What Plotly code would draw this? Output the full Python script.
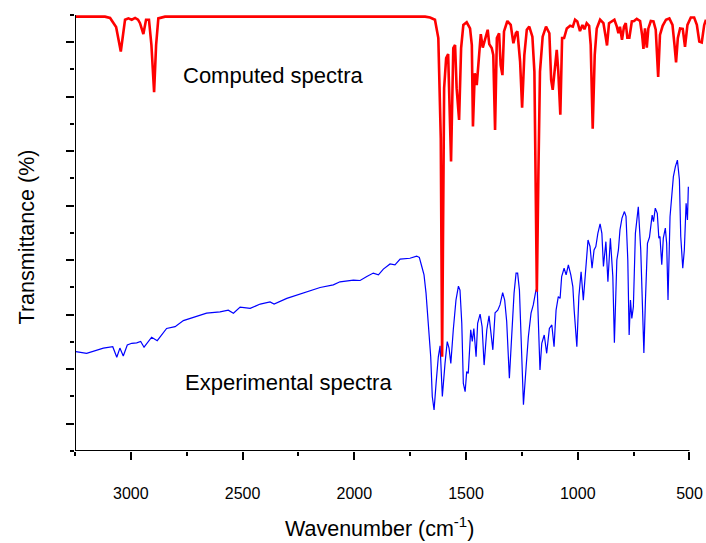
import plotly.graph_objects as go

# Computed spectrum (wavenumber cm-1, transmittance %)
comp_wn = [3250, 3116, 3093, 3074, 3066, 3045, 3035, 3026, 3011, 2996, 2981, 2968, 2959, 2944,
           2932, 2919, 2908, 2896, 2887, 2877, 2847, 2467, 2019, 1683, 1661, 1639, 1624, 1613,
           1607, 1598, 1589, 1580, 1567, 1557, 1549, 1542, 1531, 1522, 1512, 1497, 1482, 1474,
           1469, 1461, 1452, 1443, 1434, 1425, 1415, 1403, 1396, 1385, 1378, 1370, 1362, 1352,
           1345, 1337, 1330, 1315, 1300, 1288, 1277, 1270, 1258, 1249, 1239, 1228, 1217, 1203,
           1194, 1188, 1183, 1176, 1169, 1157, 1142, 1127, 1119, 1112, 1103, 1094, 1087, 1078,
           1070, 1061, 1049, 1034, 1022, 1012, 1002, 990, 979, 970, 960, 949, 942, 933, 924,
           915, 900, 885, 875, 869, 860, 848, 836, 825, 818, 811, 802, 793, 785, 778, 769, 758,
           748, 736, 721, 712, 706, 699, 691, 684, 673, 661, 651, 640, 632, 620, 605, 590, 576,
           567, 560, 552, 542, 530, 520, 509, 494, 479, 467, 456, 445, 434, 426]
comp_t = [99.6, 99.6, 99.3, 97.7, 97.2, 91.6, 95.4, 98.9, 99.2, 98.9, 99.3, 98.9, 98.1, 95.6,
          98.9, 98.9, 93.1, 82.3, 93.1, 99.2, 99.6, 99.6, 99.6, 99.6, 99.4, 98.9, 94.7, 71.8,
          21.6, 83.2, 90.1, 91.0, 66.4, 92.4, 93.1, 83.2, 75.9, 92.4, 97.7, 98.3, 96.9, 93.1,
          74.4, 86.6, 83.9, 89.3, 95.6, 92.5, 94.7, 96.6, 93.3, 92.4, 90.8, 73.6, 94.7, 95.8,
          88.5, 86.2, 96.2, 98.6, 97.7, 93.5, 95.8, 96.2, 89.3, 78.7, 90.8, 96.6, 97.3, 95.0,
          87.0, 56.4, 36.5, 64.1, 87.0, 95.0, 97.3, 95.8, 85.1, 82.8, 87.0, 92.0, 87.0, 77.1,
          94.7, 94.7, 96.9, 97.5, 97.3, 98.9, 98.5, 96.3, 97.7, 96.7, 98.1, 97.5, 93.1, 73.9, 90.8,
          96.9, 98.9, 98.1, 95.0, 93.0, 98.1, 98.6, 98.9, 97.3, 95.8, 97.3, 94.3, 97.3, 98.1, 94.8, 94.8, 98.5,
          98.6, 99.1, 98.6, 95.4, 92.2, 96.9, 92.5, 96.9, 98.6, 98.5, 96.6, 85.8, 95.4, 97.5, 98.9, 99.2, 97.7,
          93.1, 89.1, 94.7, 96.9, 96.8, 92.7, 97.7, 99.4, 99.4, 97.7, 93.9, 93.7, 97.7, 98.9]

# Experimental spectrum
exp_wn = [3246, 3198, 3123, 3081, 3063, 3049, 3034, 3016, 2996, 2974, 2956, 2941, 2907, 2882,
          2840, 2802, 2765, 2720, 2661, 2601, 2564, 2541, 2511, 2466, 2421, 2377, 2359, 2302,
          2228, 2153, 2094, 2064, 2004, 1974, 1944, 1915, 1892, 1870, 1840, 1818, 1795, 1751,
          1721, 1709, 1698, 1688, 1679, 1669, 1658, 1651, 1643, 1634, 1624, 1616, 1606, 1594,
          1584, 1576, 1568, 1557, 1545, 1534, 1527, 1519, 1512, 1504, 1497, 1490, 1479, 1472,
          1465, 1455, 1448, 1437, 1428, 1419, 1407, 1397, 1389, 1380, 1370, 1358, 1348, 1336,
          1327, 1318, 1306, 1295, 1285, 1276, 1269, 1261, 1252, 1243, 1231, 1221, 1209, 1199,
          1187, 1181, 1169, 1161, 1150, 1139, 1127, 1116, 1106, 1097, 1087, 1079, 1072, 1061,
          1052, 1042, 1031, 1022, 1016, 1011, 1004, 995, 985, 975, 964, 954, 945, 936, 927, 919,
          910, 900, 892, 885, 874, 865, 854, 843, 836, 825, 818, 811, 802, 791, 784, 776, 770,
          764, 758, 751, 742, 729, 718, 711, 704, 697, 688, 679, 673, 667, 661, 653, 644, 637,
          632, 624, 617, 608, 602, 596, 587, 579, 572, 563, 554, 545, 539, 530, 523, 515, 509, 505]
exp_t = [22.8, 22.4, 23.6, 23.9, 21.5, 23.6, 21.8, 24.3, 24.7, 24.8, 25.1, 23.8, 26.1, 25.3,
         28.1, 28.5, 29.9, 30.7, 31.6, 31.9, 32.3, 31.6, 33.0, 32.7, 33.7, 34.2, 33.7, 35.0,
         36.2, 37.5, 38.1, 38.8, 39.2, 39.1, 40.0, 40.8, 40.4, 41.7, 42.9, 42.7, 44.0, 44.2,
         44.7, 44.4, 42.3, 40.4, 36.2, 29.3, 21.6, 12.5, 9.4, 15.5, 21.6, 24.1, 12.5, 20.1,
         25.1, 23.6, 20.1, 27.8, 34.6, 37.8, 36.9, 29.3, 15.5, 13.6, 18.2, 17.8, 27.8, 25.1,
         28.1, 21.6, 29.3, 31.4, 28.5, 19.7, 27.8, 31.0, 27.8, 23.2, 31.7, 32.3, 33.5, 36.3,
         34.6, 29.7, 16.7, 26.2, 36.2, 40.8, 40.8, 36.9, 23.2, 10.6, 19.3, 26.2, 31.6, 33.5,
         36.9, 36.9, 18.6, 24.7, 26.6, 22.4, 28.1, 28.9, 23.9, 32.3, 35.4, 35.0, 40.0, 41.9,
         40.4, 42.7, 40.4, 37.7, 32.3, 29.3, 23.9, 35.4, 41.1, 34.6, 43.1, 48.4, 46.9, 41.9, 46.1, 46.9,
         49.9, 52.1, 49.9, 42.3, 48.0, 38.8, 48.8, 40.0, 24.8, 43.8, 46.1, 50.7, 53.4, 54.9, 53.8, 43.8, 26.6,
         34.6, 30.4, 33.1, 49.9, 56.0, 46.1, 32.3, 22.5, 34.6, 47.6, 49.0, 51.4, 54.1, 52.6, 55.7, 54.5, 48.8,
         49.2, 42.7, 48.8, 51.1, 47.6, 34.6, 53.7, 59.9, 62.9, 65.2, 66.7, 62.2, 49.2, 41.9, 46.1, 56.8, 53.0, 60.6]

FONT = "Liberation Sans, Arial, sans-serif"

fig = go.Figure()
fig.add_trace(go.Scatter(x=exp_wn, y=exp_t, mode="lines",
                         line=dict(color="#0000ff", width=1.2), showlegend=False))
fig.add_trace(go.Scatter(x=comp_wn, y=comp_t, mode="lines",
                         line=dict(color="#ff0000", width=2.6), showlegend=False))

# axis lines drawn by hand: the bottom line stops at 500 while the data run on
fig.add_shape(type="line", xref="x", yref="y", x0=3250, x1=500, y0=0, y1=0,
              line=dict(color="black", width=2))
fig.add_shape(type="line", xref="x", yref="y", x0=3250, x1=3250, y0=0, y1=100,
              line=dict(color="black", width=2))

fig.update_xaxes(range=[3250, 426], showgrid=False, zeroline=False, showline=False,
                 ticks="outside", ticklen=8, tickwidth=2, tickcolor="black",
                 tick0=0, dtick=500, ticklabelstandoff=20,
                 tickfont=dict(family=FONT, size=16, color="black"),
                 minor=dict(ticks="outside", ticklen=4, tickwidth=2, tickcolor="black", dtick=250))
fig.update_yaxes(range=[0, 102.5], showgrid=False, zeroline=False, showline=False,
                 ticks="outside", ticklen=8, tickwidth=2, tickcolor="black",
                 tick0=6.25, dtick=12.5, showticklabels=False,
                 minor=dict(ticks="outside", ticklen=4, tickwidth=2, tickcolor="black",
                            tick0=0, dtick=6.25))

ann_font = dict(family=FONT, size=22, color="black")
title_font = dict(family=FONT, size=21.5, color="black")
fig.add_annotation(text="Computed spectra", xref="paper", yref="paper", x=0.168, y=0.841,
                   xanchor="left", yanchor="middle", showarrow=False, font=ann_font)
fig.add_annotation(text="Experimental spectra", xref="paper", yref="paper", x=0.171, y=0.154,
                   xanchor="left", yanchor="middle", showarrow=False, font=ann_font)
fig.add_annotation(text="Wavenumber (cm<sup>-1</sup>)", xref="paper", yref="paper", x=0.4826,
                   y=-0.170, xanchor="center", yanchor="middle", showarrow=False, font=title_font)
fig.add_annotation(text="Transmittance (%)", xref="paper", yref="paper", x=-0.0761, y=0.48,
                   xanchor="center", yanchor="middle", textangle=-90, showarrow=False,
                   font=title_font)

fig.update_layout(width=706, height=543, margin=dict(l=75, r=0, t=4, b=92),
                  plot_bgcolor="white", paper_bgcolor="white", showlegend=False)

# page body has a default 8px margin; drop it so the figure fills the window
fig.write_html("out.html", config={"displayModeBar": False},
               post_script="document.body.style.margin='0';")
